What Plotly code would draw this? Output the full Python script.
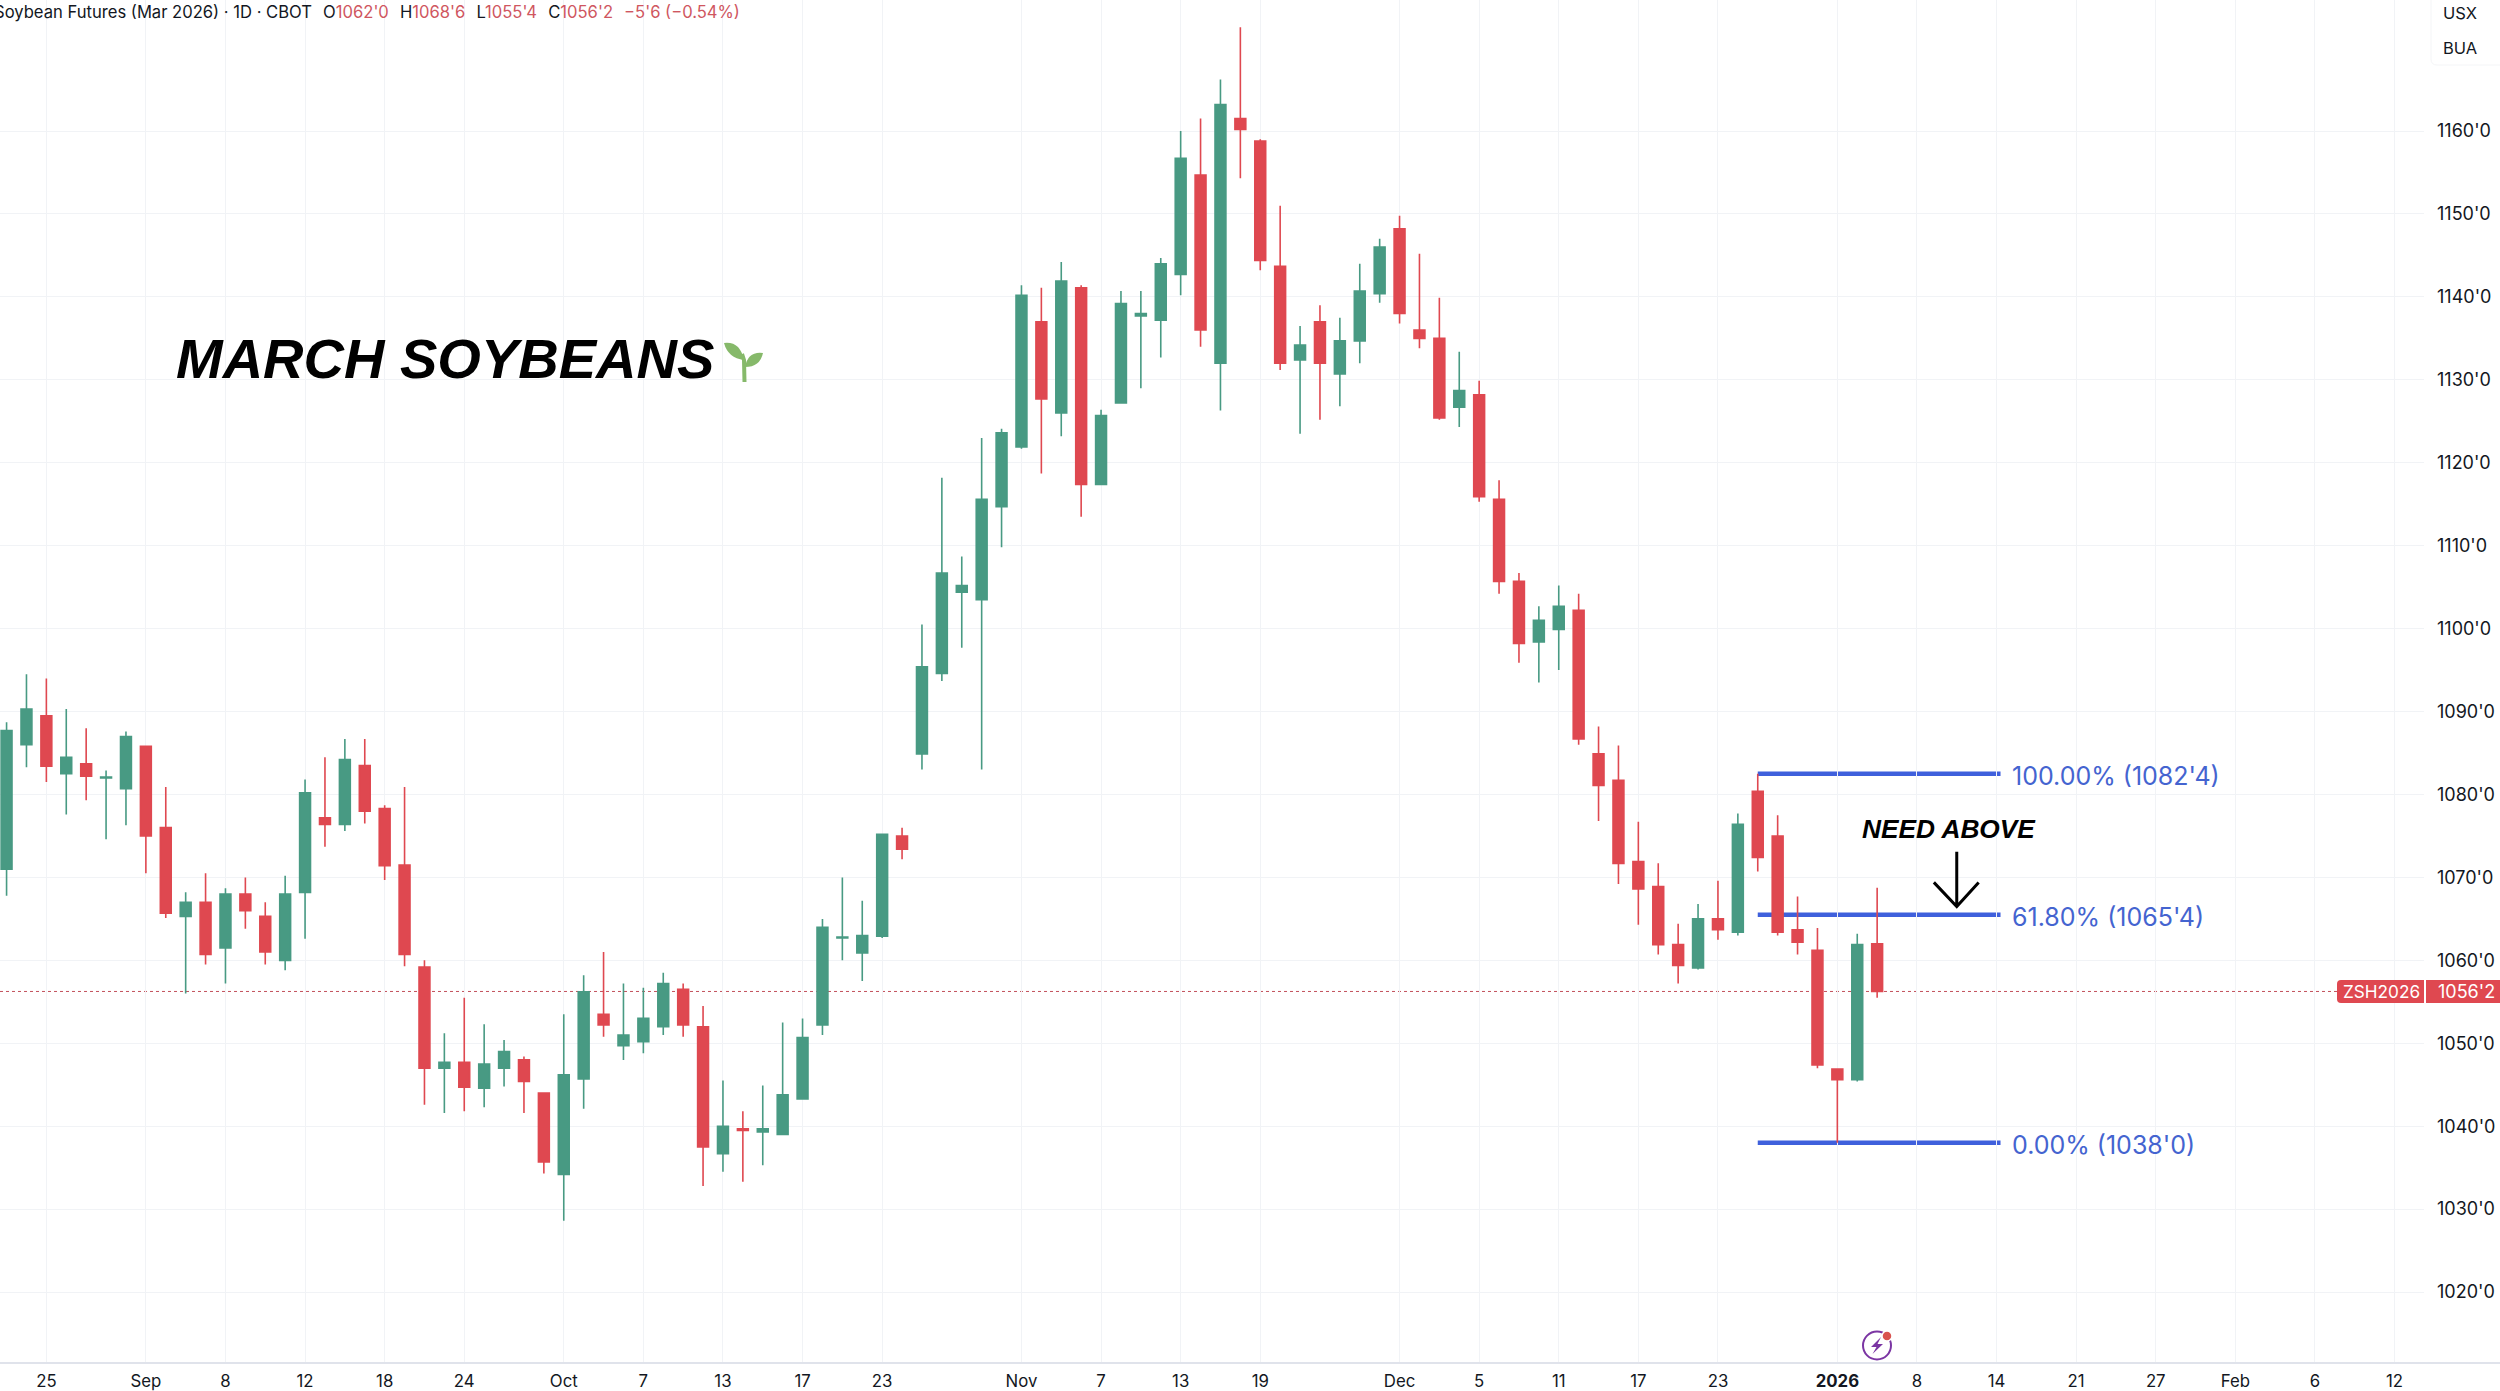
import plotly.graph_objects as go

bar_index = list(range(95))
opens = [1071.0,1086.0,1089.5,1082.5,1083.7,1082.0,1080.7,1085.8,1076.0,1065.3,1067.0,1061.5,1068.0,1065.3,1060.0,1068.2,1077.2,1076.4,1083.5,1078.3,
         1071.5,1059.2,1047.0,1047.7,1044.6,1047.0,1048.0,1044.0,1034.2,1045.7,1053.5,1049.7,1050.2,1052.0,1056.5,1052.0,1036.7,1039.7,1039.3,1039.0,
         1043.3,1052.2,1062.7,1060.9,1062.9,1075.0,1084.9,1094.6,1104.4,1103.5,1114.7,1121.9,1137.0,1126.0,1141.1,1117.4,1127.2,1137.7,1137.2,1142.7,
         1154.7,1132.0,1161.5,1158.8,1143.7,1132.4,1137.0,1130.7,1134.7,1140.4,1148.2,1136.0,1135.0,1126.7,1128.2,1115.6,1105.7,1098.4,1099.9,1102.2,
         1084.9,1081.7,1071.9,1068.9,1061.9,1059.1,1065.0,1063.4,1080.4,1075.0,1063.7,1061.2,1046.9,1045.6,1062.0]
highs = [1088.7,1094.5,1094.0,1090.3,1088.0,1082.9,1087.6,1085.8,1080.9,1068.2,1070.5,1068.7,1070.0,1067.0,1070.2,1081.8,1084.5,1086.7,1086.7,1078.7,
         1080.9,1060.0,1051.2,1055.5,1052.3,1050.4,1048.4,1044.0,1053.5,1058.2,1061.0,1057.2,1056.7,1058.5,1057.2,1054.5,1045.5,1041.8,1044.9,1052.5,
         1053.0,1065.0,1070.0,1067.2,1075.2,1076.0,1100.5,1118.2,1108.7,1123.0,1124.1,1141.4,1141.1,1144.2,1141.4,1126.4,1140.7,1140.7,1144.7,1160.0,
         1161.5,1166.2,1172.5,1159.0,1151.0,1136.5,1139.0,1137.5,1144.0,1147.0,1149.8,1145.2,1139.9,1133.4,1129.9,1117.9,1106.7,1102.7,1105.2,1104.2,
         1088.2,1085.9,1076.7,1071.7,1064.4,1066.8,1069.6,1077.7,1082.5,1077.5,1067.7,1063.9,1046.9,1063.2,1068.75]
lows = [1067.8,1083.3,1081.5,1077.6,1079.3,1074.6,1076.3,1070.5,1065.1,1056.0,1059.5,1057.2,1063.8,1059.5,1058.8,1062.6,1073.7,1075.6,1076.5,1069.7,
        1059.3,1042.6,1041.6,1041.8,1042.3,1044.8,1041.6,1034.3,1028.6,1042.1,1050.8,1048.0,1048.8,1051.0,1050.8,1032.8,1034.5,1033.3,1035.3,1039.0,
        1043.3,1051.0,1060.0,1057.5,1062.7,1072.2,1083.0,1093.7,1097.7,1083.0,1109.8,1121.7,1118.7,1123.2,1113.5,1117.4,1127.2,1129.0,1132.7,1140.2,
        1134.0,1126.3,1154.3,1143.2,1131.2,1123.5,1125.2,1126.8,1132.0,1139.3,1136.8,1133.8,1125.2,1124.3,1115.3,1104.2,1095.9,1093.5,1095.0,1086.0,
        1076.8,1069.2,1064.3,1060.7,1057.2,1058.9,1062.5,1063.0,1070.7,1063.0,1060.7,1047.0,1038.0,1045.4,1055.5]
closes = [1087.7,1090.3,1083.4,1084.5,1082.2,1082.1,1087.0,1075.0,1065.7,1067.0,1060.7,1068.0,1066.0,1061.0,1068.0,1080.2,1076.4,1084.2,1078.0,1071.4,
          1060.7,1047.0,1047.7,1044.7,1047.5,1049.0,1045.4,1035.7,1046.2,1056.2,1052.2,1051.0,1053.0,1057.2,1052.2,1037.5,1040.0,1039.5,1039.7,1043.8,
          1050.7,1064.0,1062.8,1063.0,1075.2,1073.4,1095.4,1106.7,1105.2,1115.6,1123.6,1140.2,1127.7,1141.9,1117.4,1125.7,1139.2,1138.0,1144.0,1156.7,
          1136.0,1163.2,1160.2,1144.4,1132.0,1134.2,1132.0,1134.7,1140.7,1146.0,1138.0,1135.0,1125.4,1128.7,1115.9,1105.7,1098.2,1101.0,1102.7,1086.7,
          1081.1,1071.7,1068.6,1061.9,1059.4,1065.0,1063.7,1076.4,1072.4,1063.4,1062.2,1047.4,1045.6,1061.9,1056.25]

x_tick_positions = [2,7,11,15,19,23,28,32,36,40,44,51,55,59,63,70,74,78,82,86,92,96,100,104,108,112,116,120]
x_tick_labels = ["25","Sep","8","12","18","24","Oct","7","13","17","23","Nov","7","13","19","Dec","5","11","17","23","<b>2026</b>","8","14","21","27","Feb","6","12"]
y_tick_values = [1020,1030,1040,1050,1060,1070,1080,1090,1100,1110,1120,1130,1140,1150,1160]
y_tick_labels = [f"{v}'0" for v in y_tick_values]

fib_levels = [1082.5, 1065.5, 1038.0]
fib_labels = ["100.00% (1082'4)", "61.80% (1065'4)", "0.00% (1038'0)"]
fib_start, fib_end = 88, 100.2
last_close = 1056.25

UP, DOWN = "#489a83", "#df4850"
INK, GRID, AXIS, BLUE, VALRED = "#131722", "#f1f3f6", "#e0e3eb", "#3f60dc", "#cf5660"
FONT = "Inter, 'Open Sans', sans-serif"
W, H, PLOT_W, PLOT_H = 2500, 1391, 2424, 1363

def rx(px): return px / PLOT_W
def ry(py): return 1 - py / PLOT_H
def pshape(path, fill=None, line=None, lw=0):
    return dict(type="path", xref="paper", yref="paper", path=path, fillcolor=fill or "rgba(0,0,0,0)",
                line=dict(color=line or "rgba(0,0,0,0)", width=lw), layer="above")

fig = go.Figure(go.Candlestick(
    x=bar_index, open=opens, high=highs, low=lows, close=closes, whiskerwidth=0,
    increasing=dict(line=dict(color=UP, width=1.6), fillcolor=UP),
    decreasing=dict(line=dict(color=DOWN, width=1.6), fillcolor=DOWN),
    hoverinfo="skip"))

shapes = [
    dict(type="line", xref="paper", x0=0, x1=1, yref="y", y0=last_close, y1=last_close,
         line=dict(color="#c2505a", width=1, dash="dot"), layer="below"),
]
for lv in fib_levels:
    shapes.append(dict(type="line", xref="x", x0=fib_start, x1=fib_end, yref="y", y0=lv, y1=lv,
                       line=dict(color=BLUE, width=4.5), layer="below"))
shapes.append(dict(type="line", xref="paper", yref="paper", x0=0, x1=rx(W), y0=ry(PLOT_H), y1=ry(PLOT_H),
                   line=dict(color=AXIS, width=2), layer="above"))
shapes.append(dict(type="path", xref="x", yref="y",
                   path="M98,1073.1 L98,1066.5 M96.85,1069.4 L98,1066.5 L99.1,1069.4",
                   line=dict(color="#000000", width=3), layer="above"))
SPROUT = "#86b96a"
shapes += [
    pshape(f"M{rx(724)},{ry(343)} Q{rx(740)},{ry(341)} {rx(744)},{ry(360)} Q{rx(728)},{ry(358)} {rx(724)},{ry(343)} Z", fill=SPROUT),
    pshape(f"M{rx(763)},{ry(353)} Q{rx(748)},{ry(351)} {rx(745)},{ry(367)} Q{rx(760)},{ry(367)} {rx(763)},{ry(353)} Z", fill=SPROUT),
    pshape(f"M{rx(742)},{ry(354)} L{rx(744)},{ry(360)} L{rx(744.5)},{ry(382)}", line=SPROUT, lw=4),
]
r = 4
TAG_T, TAG_B = 980, 1003
shapes += [
    pshape(f"M{rx(2424)},{ry(TAG_T)} L{rx(2337+r)},{ry(TAG_T)} Q{rx(2337)},{ry(TAG_T)} {rx(2337)},{ry(TAG_T+r)} "
           f"L{rx(2337)},{ry(TAG_B-r)} Q{rx(2337)},{ry(TAG_B)} {rx(2337+r)},{ry(TAG_B)} L{rx(2424)},{ry(TAG_B)} Z", fill="#df4850"),
    pshape(f"M{rx(2426)},{ry(TAG_T)} L{rx(2500)},{ry(TAG_T)} L{rx(2500)},{ry(TAG_B)} L{rx(2426)},{ry(TAG_B)} Z", fill="#df4850"),
]
shapes.append(pshape(f"M{rx(2431)},{ry(-2)} L{rx(2431)},{ry(59)} Q{rx(2431)},{ry(65)} {rx(2437)},{ry(65)} L{rx(2502)},{ry(65)}",
                     fill="#ffffff", line="#f4f5f7", lw=1))
cx, cy, cr = 1877, 1345.5, 14
shapes += [
    dict(type="circle", xref="paper", yref="paper", x0=rx(cx-cr), x1=rx(cx+cr), y0=ry(cy+cr), y1=ry(cy-cr),
         line=dict(color="#7b35a3", width=2), layer="above"),
    pshape(f"M{rx(1881)},{ry(1337)} L{rx(1871)},{ry(1347)} L{rx(1876.5)},{ry(1347)} L{rx(1872.5)},{ry(1354)} "
           f"L{rx(1883)},{ry(1344)} L{rx(1877.5)},{ry(1344)} Z", fill="#7b35a3"),
    dict(type="circle", xref="paper", yref="paper", x0=rx(1882), x1=rx(1892), y0=ry(1341), y1=ry(1331),
         fillcolor="#d9534f", line=dict(color="#ffffff", width=1.5), layer="above"),
]

def note(text, px, py, size, color=INK, anchor="left", family=FONT):
    return dict(text=text, xref="paper", yref="paper", x=rx(px), y=ry(py), xanchor=anchor, yanchor="middle",
                showarrow=False, font=dict(family=family, size=size, color=color), align="left")

def v(s): return f'<span style="color:{VALRED}">{s}</span>'
GAP = "&#8196;&#8196;"
header = ("Soybean Futures (Mar 2026) · 1D · CBOT" + GAP + "O" + v("1062'0") + GAP + "H" + v("1068'6") + GAP + "L" + v("1055'4")
          + GAP + "C" + v("1056'2") + GAP + v("−5'6 (−0.54%)"))
annotations = [
    note(header, -8, 12, 16.6),
    note("<b><i>MARCH SOYBEANS</i></b>", 174, 359, 56, "#000000", family="'Liberation Sans', Arial, sans-serif"),
    note("<b><i>NEED ABOVE</i></b>", 1860, 829, 26.3, "#000000", family="'Liberation Sans', Arial, sans-serif"),
    note("USX", 2441, 13, 16.5),
    note("BUA", 2441, 48, 16.5),
    note("ZSH2026", 2341, 991.5, 17.2, "#ffffff"),
    note("1056'2", 2436, 991.5, 18, "#ffffff"),
]
for lv, lab in zip(fib_levels, fib_labels):
    annotations.append(dict(text=lab, xref="paper", yref="y", x=rx(2009.5), y=lv, yshift=-2.5, xanchor="left", yanchor="middle",
                            showarrow=False, font=dict(family=FONT, size=25, color="#4464d0")))

fig.update_layout(
    width=W, height=H, margin=dict(l=0, r=W-PLOT_W, t=0, b=H-PLOT_H, pad=0, autoexpand=False),
    paper_bgcolor="#ffffff", plot_bgcolor="#ffffff", showlegend=False, boxgap=0.22,
    shapes=shapes, annotations=annotations,
    xaxis=dict(automargin=False, range=[-0.33, 121.48], rangeslider=dict(visible=False), tickmode="array",
               tickvals=x_tick_positions, ticktext=x_tick_labels, showgrid=True, gridcolor=GRID, gridwidth=1.2,
               zeroline=False, showline=False, ticks="", ticklabelstandoff=6,
               tickfont=dict(family=FONT, size=16.8, color=INK)),
    yaxis=dict(automargin=False, range=[1011.45, 1175.8], side="right", tickmode="array",
               tickvals=y_tick_values, ticktext=y_tick_labels, showgrid=True, gridcolor=GRID, gridwidth=1.2,
               zeroline=False, showline=False, ticks="", ticklabelstandoff=12,
               tickfont=dict(family=FONT, size=18, color=INK)),
)

fig.write_html("out.html", config=dict(displayModeBar=False),
               post_script="document.body.style.margin='0';document.documentElement.style.overflow='hidden';")
